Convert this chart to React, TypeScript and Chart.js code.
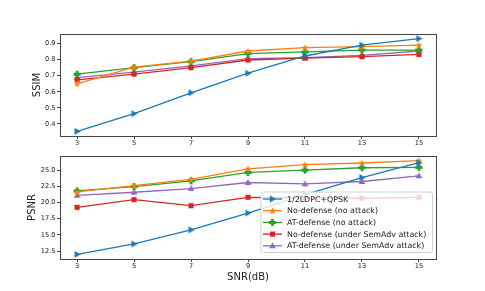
import React, { useEffect, useRef } from "react";
import { Chart, registerables } from "chart.js";

Chart.register(...registerables);

const snr = [3, 5, 7, 9, 11, 13, 15];
const seriesNames = [
  "1/2LDPC+QPSK",
  "No-defense (no attack)",
  "AT-defense (no attack)",
  "No-defense (under SemAdv attack)",
  "AT-defense (under SemAdv attack)",
];
const colors = ["#1f77b4", "#ff7f0e", "#2ca02c", "#d62728", "#9467bd"];
const markers = ["triRight", "star", "plus", "square", "triUp"];

const ssimLdpc = [0.354, 0.464, 0.594, 0.716, 0.823, 0.891, 0.931];
const ssimNoDef = [0.65, 0.754, 0.791, 0.854, 0.875, 0.881, 0.891];
const ssimAtDef = [0.71, 0.75, 0.788, 0.838, 0.848, 0.86, 0.86];
const ssimNoDefAdv = [0.675, 0.71, 0.75, 0.798, 0.81, 0.819, 0.833];
const ssimAtDefAdv = [0.689, 0.723, 0.762, 0.806, 0.812, 0.827, 0.854];

const psnrLdpc = [12.0, 13.6, 15.78, 18.37, 21.2, 23.85, 26.14];
const psnrNoDef = [21.63, 22.6, 23.55, 25.2, 25.83, 26.09, 26.45];
const psnrAtDef = [21.79, 22.46, 23.34, 24.64, 25.0, 25.36, 25.41];
const psnrNoDefAdv = [19.25, 20.44, 19.5, 20.8, 20.75, 20.65, 20.8];
const psnrAtDefAdv = [21.11, 21.58, 22.15, 23.08, 22.88, 23.24, 24.12];

const xTicks = [3, 5, 7, 9, 11, 13, 15];
const ssimTicks = [0.4, 0.5, 0.6, 0.7, 0.8, 0.9];
const psnrTicks = [12.5, 15.0, 17.5, 20.0, 22.5, 25.0];

const FONT = "'DejaVu Sans', sans-serif";
const AXIS_COLOR = "#444";

function makeMarker(kind: string, color: string): HTMLCanvasElement {
  const s = 9;
  const c = document.createElement("canvas");
  c.width = s;
  c.height = s;
  const g = c.getContext("2d")!;
  g.fillStyle = color;
  g.strokeStyle = color;
  const m = s / 2;
  g.beginPath();
  if (kind === "triRight") {
    g.moveTo(m + 3.6, m);
    g.lineTo(m - 2.6, m - 3.4);
    g.lineTo(m - 2.6, m + 3.4);
    g.closePath();
  } else if (kind === "triUp") {
    g.moveTo(m, m - 3.4);
    g.lineTo(m + 3.4, m + 2.6);
    g.lineTo(m - 3.4, m + 2.6);
    g.closePath();
  } else if (kind === "square") {
    g.rect(m - 2.6, m - 2.6, 5.2, 5.2);
  } else if (kind === "plus") {
    const a = 1.4, b = 3.6;
    g.moveTo(m - a, m - b);
    g.lineTo(m + a, m - b);
    g.lineTo(m + a, m - a);
    g.lineTo(m + b, m - a);
    g.lineTo(m + b, m + a);
    g.lineTo(m + a, m + a);
    g.lineTo(m + a, m + b);
    g.lineTo(m - a, m + b);
    g.lineTo(m - a, m + a);
    g.lineTo(m - b, m + a);
    g.lineTo(m - b, m - a);
    g.lineTo(m - a, m - a);
    g.closePath();
  } else if (kind === "star") {
    const ro = 3.8, ri = 1.6;
    for (let i = 0; i < 10; i++) {
      const r = i % 2 === 0 ? ro : ri;
      const ang = -Math.PI / 2 + (i * Math.PI) / 5;
      const px = m + r * Math.cos(ang);
      const py = m + 0.3 + r * Math.sin(ang);
      if (i === 0) g.moveTo(px, py);
      else g.lineTo(px, py);
    }
    g.closePath();
  }
  g.fill();
  return c;
}

const framePlugin = {
  id: "frame",
  afterDatasetsDraw(chart: any) {
    const { ctx, chartArea: a } = chart;
    ctx.save();
    ctx.strokeStyle = AXIS_COLOR;
    ctx.lineWidth = 1;
    ctx.strokeRect(Math.round(a.left) + 0.5, Math.round(a.top) + 0.5, Math.round(a.right - a.left), Math.round(a.bottom - a.top));
    ctx.restore();
  },
};

const legendPlugin = {
  id: "mplLegend",
  afterDraw(chart: any, _args: any, opts: any) {
    if (!opts || !opts.show) return;
    const { ctx, chartArea: a } = chart;
    const right = a.right - 3.5;
    const bottom = a.bottom - 6.5;
    const w = 171.5;
    const h = 60.5;
    const left = right - w;
    const top = bottom - h;
    ctx.save();
    ctx.beginPath();
    const r = 2.5;
    ctx.moveTo(left + r, top);
    ctx.lineTo(right - r, top);
    ctx.quadraticCurveTo(right, top, right, top + r);
    ctx.lineTo(right, bottom - r);
    ctx.quadraticCurveTo(right, bottom, right - r, bottom);
    ctx.lineTo(left + r, bottom);
    ctx.quadraticCurveTo(left, bottom, left, bottom - r);
    ctx.lineTo(left, top + r);
    ctx.quadraticCurveTo(left, top, left + r, top);
    ctx.closePath();
    ctx.fillStyle = "rgba(255,255,255,0.8)";
    ctx.fill();
    ctx.strokeStyle = "#d0d0d0";
    ctx.lineWidth = 1;
    ctx.stroke();
    ctx.font = `7.9px ${FONT}`;
    ctx.textBaseline = "middle";
    chart.data.datasets.forEach((ds: any, i: number) => {
      const y = top + 7 + i * 11.7;
      ctx.strokeStyle = ds.borderColor;
      ctx.lineWidth = 1.3;
      ctx.beginPath();
      ctx.moveTo(left + 2, y);
      ctx.lineTo(left + 21, y);
      ctx.stroke();
      const img = ds.pointStyle as HTMLCanvasElement;
      ctx.drawImage(img, left + 11.5 - img.width / 2, y - img.height / 2);
      ctx.fillStyle = "#222";
      ctx.fillText(ds.label, left + 26, y + 0.5);
    });
    ctx.restore();
  },
};

function buildDatasets(values: number[][]) {
  return values.map((vals, i) => ({
    label: seriesNames[i],
    data: snr.map((x, j) => ({ x, y: vals[j] })),
    borderColor: colors[i],
    backgroundColor: colors[i],
    borderWidth: 1.3,
    pointStyle: makeMarker(markers[i], colors[i]) as any,
    pointRadius: 4,
    pointHoverRadius: 4,
    tension: 0,
  }));
}

function range(values: number[][]) {
  const all = values.flat();
  const mn = Math.min(...all);
  const mx = Math.max(...all);
  const pad = (mx - mn) * 0.05;
  return [mn - pad, mx + pad];
}

function makeOptions(p: {
  yTicks: number[];
  yMin: number;
  yMax: number;
  yTitle: string;
  yTitlePad: number;
  xTitle: string | null;
  padTop: number;
  xHeight: number;
  legend: boolean;
  yFmt: (v: number) => string;
}) {
  return {
    responsive: false,
    animation: false as const,
    events: [],
    layout: { padding: { top: p.padTop, right: 49, left: 0, bottom: 0 } },
    plugins: {
      legend: { display: false },
      tooltip: { enabled: false },
      mplLegend: { show: p.legend },
    },
    scales: {
      x: {
        type: "linear" as const,
        min: 2.4,
        max: 15.6,
        afterBuildTicks: (s: any) => {
          s.ticks = xTicks.map((v) => ({ value: v }));
        },
        afterFit: (s: any) => {
          s.height = p.xHeight;
        },
        ticks: {
          font: { family: FONT, size: 6.6 },
          color: "#222",
          padding: 0.5,
          maxRotation: 0,
          autoSkip: false,
          callback: (v: any) => String(v),
        },
        grid: { display: true, drawOnChartArea: false, drawTicks: true, tickLength: 3, color: AXIS_COLOR },
        border: { display: true, color: AXIS_COLOR },
        title: {
          display: !!p.xTitle,
          text: p.xTitle || "",
          font: { family: FONT, size: 10 },
          color: "#222",
          padding: { top: 0, bottom: 8 },
        },
      },
      y: {
        type: "linear" as const,
        min: p.yMin,
        max: p.yMax,
        afterBuildTicks: (s: any) => {
          s.ticks = p.yTicks.map((v) => ({ value: v }));
        },
        afterFit: (s: any) => {
          s.width = 60;
        },
        ticks: {
          font: { family: FONT, size: 6.6 },
          color: "#222",
          padding: 1.5,
          autoSkip: false,
          callback: (v: any) => p.yFmt(Number(v)),
        },
        grid: { display: true, drawOnChartArea: false, drawTicks: true, tickLength: 3, color: AXIS_COLOR },
        border: { display: true, color: AXIS_COLOR },
        title: {
          display: true,
          text: p.yTitle,
          font: { family: FONT, size: 10 },
          color: "#222",
          padding: { top: p.yTitlePad, bottom: 0 },
        },
      },
    },
  };
}

export default function App() {
  const topRef = useRef<HTMLCanvasElement>(null);
  const botRef = useRef<HTMLCanvasElement>(null);

  useEffect(() => {
    const ssimVals = [ssimLdpc, ssimNoDef, ssimAtDef, ssimNoDefAdv, ssimAtDefAdv];
    const psnrVals = [psnrLdpc, psnrNoDef, psnrAtDef, psnrNoDefAdv, psnrAtDefAdv];
    const [sMin, sMax] = range(ssimVals);
    const [pMin, pMax] = range(psnrVals);

    const top = new Chart(topRef.current!, {
      type: "line",
      data: { datasets: buildDatasets(ssimVals) as any },
      options: makeOptions({
        yTicks: ssimTicks,
        yMin: sMin,
        yMax: sMax,
        yTitle: "SSIM",
        yTitlePad: 31.5,
        xTitle: null,
        padTop: 34,
        xHeight: 14,
        legend: false,
        yFmt: (v) => v.toFixed(1),
      }) as any,
      plugins: [framePlugin, legendPlugin],
    });
    const bot = new Chart(botRef.current!, {
      type: "line",
      data: { datasets: buildDatasets(psnrVals) as any },
      options: makeOptions({
        yTicks: psnrTicks,
        yMin: pMin,
        yMax: pMax,
        yTitle: "PSNR",
        yTitlePad: 26,
        xTitle: "SNR(dB)",
        padTop: 6,
        xHeight: 32,
        legend: true,
        yFmt: (v) => v.toFixed(1),
      }) as any,
      plugins: [framePlugin, legendPlugin],
    });
    return () => {
      top.destroy();
      bot.destroy();
    };
  }, []);

  return (
    <div style={{ position: "fixed", left: 0, top: 0, width: 485, height: 291, background: "#fff" }}>
      <canvas ref={topRef} width={485} height={150} style={{ position: "absolute", left: 0, top: 0, width: 485, height: 150 }} />
      <canvas ref={botRef} width={485} height={141} style={{ position: "absolute", left: 0, top: 150, width: 485, height: 141 }} />
    </div>
  );
}
